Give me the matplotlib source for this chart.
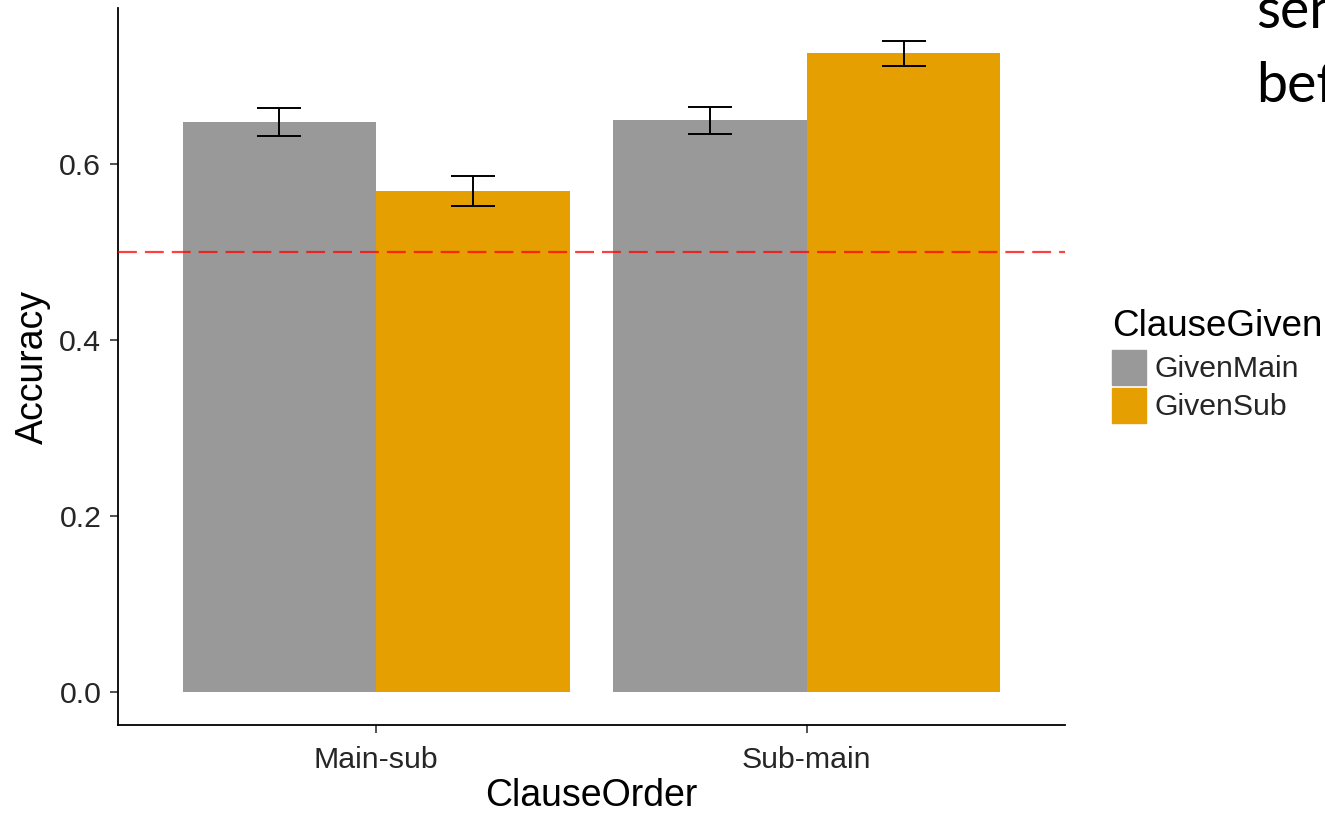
import matplotlib
matplotlib.use("Agg")
import matplotlib.pyplot as plt
from matplotlib.patches import Rectangle
import numpy as np

# Data: mean accuracy with standard-error bars
clause_order = ["Main-sub", "Sub-main"]
clause_given = ["GivenMain", "GivenSub"]
given_main_acc = [0.648, 0.650]
given_sub_acc = [0.570, 0.726]
given_main_se = [0.016, 0.0155]
given_sub_se = [0.017, 0.0145]
chance_level = 0.5
y_ticks = [0.0, 0.2, 0.4, 0.6]

colors = ["#999999", "#E69F00"]
W, H = 1325, 815
DPI = 100

plt.rcParams["font.family"] = ["Liberation Sans", "DejaVu Sans"]

fig = plt.figure(figsize=(W / DPI, H / DPI), dpi=DPI)
fig.patch.set_facecolor("white")


def fx(px):
    return px / W


def fy(py):
    return 1 - py / H


ax_l, ax_r, ax_t, ax_b = 118, 1065, 8, 725
ax = fig.add_axes([fx(ax_l), fy(ax_b), fx(ax_r) - fx(ax_l), fy(ax_t) - fy(ax_b)])

means = [given_main_acc, given_sub_acc]
ses = [given_main_se, given_sub_se]
x = np.arange(1, len(clause_order) + 1)
bar_w = 0.45
offsets = [-bar_w / 2, bar_w / 2]

for k in range(len(clause_given)):
    ax.bar(x + offsets[k], means[k], width=bar_w, color=colors[k],
           edgecolor="none", zorder=2, label=clause_given[k])
    ax.errorbar(x + offsets[k], means[k], yerr=ses[k], fmt="none",
                ecolor="black", elinewidth=1.4, capsize=15.5, capthick=1.4,
                zorder=3)

ax.axhline(chance_level, color="red", alpha=0.75, lw=1.6,
           dashes=(8.5, 3.6), zorder=4)

# ggplot-style axis expansion
top = max(max(m + s for m, s in zip(means[k], ses[k])) for k in range(2))
ax.set_xlim(0.4, len(clause_order) + 0.6)
ax.set_ylim(-0.05 * top, top * 1.05)

ax.set_xticks(x)
ax.set_xticklabels(clause_order)
ax.set_yticks(y_ticks)
ax.set_yticklabels([f"{v:.1f}" for v in y_ticks])

for s in ["top", "right"]:
    ax.spines[s].set_visible(False)
for s in ["left", "bottom"]:
    ax.spines[s].set_linewidth(1.3)
    ax.spines[s].set_color("black")

ax.tick_params(axis="both", length=6, width=1.2, color="#333333",
               labelsize=21.8, labelcolor="#262626")
ax.tick_params(axis="y", pad=6)
ax.tick_params(axis="x", pad=9)

ax.set_xlabel("ClauseOrder", fontsize=27, color="black", labelpad=3)
ax.set_ylabel("Accuracy", fontsize=27, color="black", labelpad=6)

# Legend
fig.text(fx(1112), fy(327), "ClauseGiven", fontsize=26.5, color="black",
         ha="left", va="center")
key_top = [350, 388]
for k, name in enumerate(clause_given):
    fig.patches.append(Rectangle((fx(1112), fy(key_top[k] + 35)), fx(34), 35 / H,
                                 transform=fig.transFigure, color=colors[k],
                                 figure=fig))
    fig.text(fx(1155), fy(key_top[k] + 19), name, fontsize=21.8,
             color="#262626", ha="left", va="center")

# Slide text running off the right edge
fig.text(fx(1256), fy(28), "sentences", fontsize=40, family="Lato",
         color="black", ha="left", va="baseline")
fig.text(fx(1256), fy(102), "before", fontsize=40, family="Lato",
         color="black", ha="left", va="baseline")

fig.savefig("out.png", dpi=DPI)
